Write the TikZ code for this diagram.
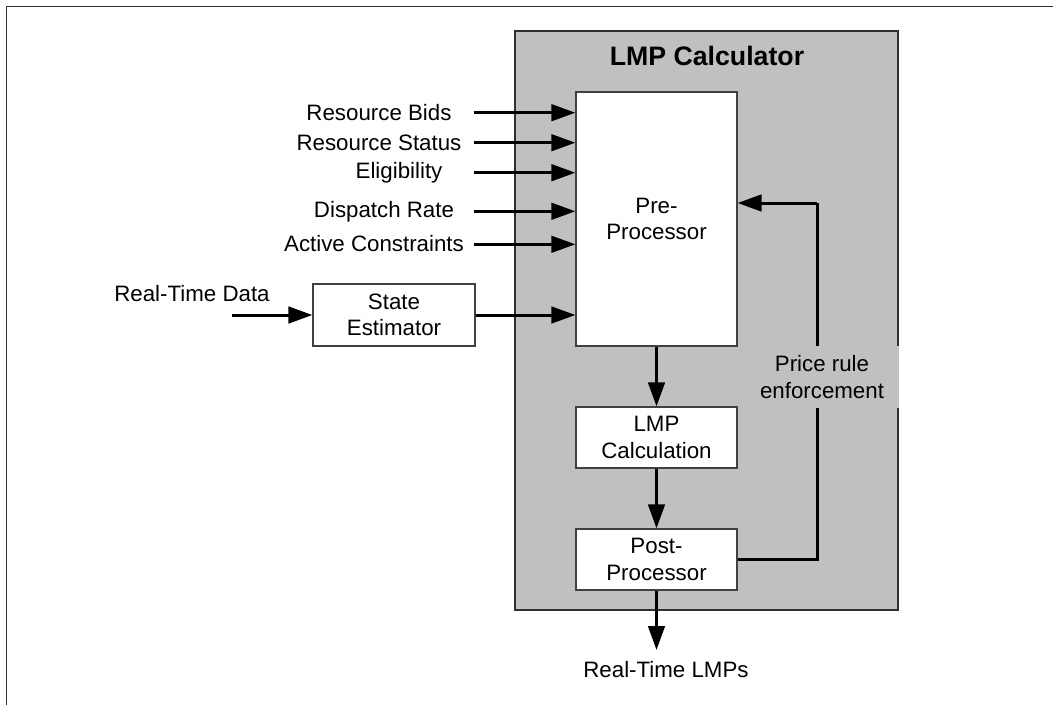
\documentclass[tikz,border=0pt]{standalone}
\usepackage{fontspec}
\setmainfont{Liberation Sans}
\usetikzlibrary{arrows.meta}

\definecolor{calcgray}{HTML}{C0C0C0}
\definecolor{boxline}{HTML}{404040}
\definecolor{frameline}{HTML}{303030}

\begin{document}
\begin{tikzpicture}[x=1pt,y=-1pt,
  txt/.style={font=\fontsize{22.3}{26.6}\selectfont, align=center, inner sep=0pt},
  blk/.style={txt, draw=boxline, line width=1.2pt, fill=white},
  flow/.style={line width=3pt, -{Triangle[length=24pt,width=16.5pt]}},
  plainline/.style={line width=3pt, line join=miter},
]
\useasboundingbox (0,0) rectangle (1053,705);

% page frame (top and left rules)
\coordinate (fbl) at (6.5,705);
\coordinate (ftl) at (6.5,6.5);
\coordinate (ftr) at (1053,6.5);
\draw[frameline, line width=1.4pt] (fbl) -- (ftl) -- (ftr);

% calculator enclosure
\node[draw=frameline, line width=1.3pt, fill=calcgray, inner sep=0pt,
      minimum width=383pt, minimum height=579pt] (calc) at (706.5,320.5) {};
\node[font=\fontsize{26.7}{30}\selectfont\bfseries, inner sep=0pt] (title) at (707,56) {LMP Calculator};

% processing blocks
\node[blk, minimum width=161pt, minimum height=254pt] (pre) at (656.5,219) {Pre-\\Processor};
\node[blk, minimum width=161pt, minimum height=61pt] (lmp) at (656.5,437.5) {LMP\\Calculation};
\node[blk, minimum width=161pt, minimum height=61pt] (post) at (656.5,559.5) {Post-\\Processor};
\node[blk, minimum width=162pt, minimum height=62pt] (se) at (394,315) {State\\Estimator};

% input labels
\node[txt] (lbids) at (379,112.7) {Resource Bids};
\node[txt] (lstat) at (379,142.7) {Resource Status};
\node[txt] (lelig) at (399,172.7) {Eligibility};
\node[txt] (ldisp) at (384,212) {Dispatch Rate};
\node[txt] (lact) at (374,244) {Active Constraints};
\node[txt] (lrtd) at (192,294) {Real-Time Data};
\node[txt] (lout) at (666,670) {Real-Time LMPs};

% arrow start points
\coordinate (in1) at (474,112.7);
\coordinate (in2) at (474,142.7);
\coordinate (in3) at (474,172.7);
\coordinate (in4) at (474,211.3);
\coordinate (in5) at (474,244.3);
\coordinate (rtd) at (232,315);
\coordinate (out) at (656.5,650);
\coordinate (fbtop) at (817,203);
\coordinate (fbbot) at (817,559.5);

\draw[flow] (in1) -- (in1 -| pre.west);
\draw[flow] (in2) -- (in2 -| pre.west);
\draw[flow] (in3) -- (in3 -| pre.west);
\draw[flow] (in4) -- (in4 -| pre.west);
\draw[flow] (in5) -- (in5 -| pre.west);
\draw[flow] (rtd) -- (se.west);
\draw[flow] (se.east) -- (se.east -| pre.west);
\draw[flow] (pre.south) -- (lmp.north);
\draw[flow] (lmp.south) -- (post.north);
\draw[flow] (post.south) -- (out);

% price rule feedback loop
\draw[plainline] (post.east) -- (fbbot) -- (fbtop);
\draw[flow] (fbtop) -- (fbtop -| pre.east);
\node[txt, fill=calcgray, minimum width=154pt, minimum height=62pt] (rule) at (822,377) {Price rule\\enforcement};
\end{tikzpicture}
\end{document}
